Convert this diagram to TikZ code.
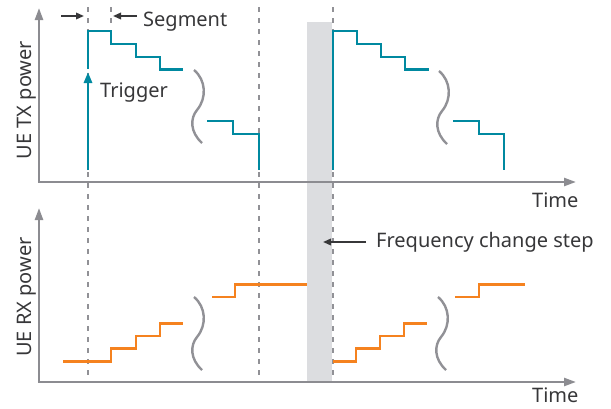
\documentclass[tikz,border=0pt]{standalone}
\usepackage{fontspec}
\setmainfont{Noto Sans}
\usetikzlibrary{arrows.meta}
\definecolor{teal1}{RGB}{0,137,160}
\definecolor{orng}{RGB}{245,130,31}
\definecolor{axisgray}{RGB}{140,140,145}
\definecolor{dashgray}{RGB}{145,145,150}
\definecolor{bandgray}{RGB}{220,221,224}
\definecolor{txt}{RGB}{55,55,57}
\tikzset{
  axis/.style={draw=axisgray, line width=2.4pt, -{Triangle[length=12pt,width=8pt]}},
  guide/.style={draw=dashgray, line width=2.6pt, dash pattern=on 5.3pt off 5.7pt},
  txpow/.style={draw=teal1, line width=2.8pt},
  rxpow/.style={draw=orng, line width=2.8pt},
  brk/.style={draw=dashgray, line width=2.4pt},
  lbl/.style={text=txt, font=\fontsize{20}{24}\selectfont, inner sep=0pt},
  ptr/.style={draw=txt, line width=1.8pt, -{Triangle[length=8pt,width=6.5pt]}},
  wavebreak/.pic={\draw[brk] (0,0) .. controls (12,10) and (13,28) .. (3,40) .. controls (-4,48.4) and (-4,62) .. (8,73);}
}
\begin{document}
\begin{tikzpicture}[x=1pt,y=-1pt]
\path[use as bounding box] (0,0) rectangle (611,408);
% frequency change band
\fill[bandgray] (307,22) rectangle (332,382);
% guides
\draw[guide] (88,7) -- (88,382);
\draw[guide] (111,7) -- (111,27);
\draw[guide] (259,7) -- (259,382);
\draw[guide] (333,7) -- (333,382);
% axes
\coordinate (o1) at (39,182);
\coordinate (yt1) at (39,8);
\coordinate (xt1) at (576,182);
\coordinate (o2) at (39,382);
\coordinate (yt2) at (39,208);
\coordinate (xt2) at (576,382);
\draw[axis] ([yshift=1.2pt]o1) -- (yt1);
\draw[axis] ([xshift=-1.2pt]o1) -- (xt1);
\draw[axis] ([yshift=1.2pt]o2) -- (yt2);
\draw[axis] ([xshift=-1.2pt]o2) -- (xt2);
% TX power
\coordinate (trigS) at (88,170);
\coordinate (trigE) at (88,72);
\draw[txpow, -{Triangle[length=11pt,width=8pt]}] (trigS) -- (trigE);
\draw[txpow] (88,68.5) |- (111,31) |- (136,44) |- (160,57) |- (183,69.5);
\draw[txpow] (207,121) -| (233,134) -| (259,170);
\draw[txpow] (333,170) |- (357,31) |- (381,44) |- (405,57) |- (429,69.5);
\draw[txpow] (453,121) -| (479,134) -| (504,170);
% RX power
\draw[rxpow] (63,361.5) -| (111,348.5) -| (136,336) -| (160,323.3) -- (183,323.3);
\draw[rxpow] (212,297) -| (235,284.5) -- (307,284.5);
\draw[rxpow] (333,361.5) -| (356,348.5) -| (380,336) -| (404,323.3) -- (427,323.3);
\draw[rxpow] (455,297) -| (479,284.5) -- (525,284.5);
% breaks
\pic at (194,70) {wavebreak};
\pic at (439,71) {wavebreak};
\pic at (194,297) {wavebreak};
\pic at (438,297) {wavebreak};
% labels
\node[lbl, anchor=base west] (seg) at (143,26) {Segment};
\node[lbl, anchor=base west] (trig) at (100,97) {Trigger};
\node[lbl, anchor=base west] (time1) at (532,207) {Time};
\node[lbl, anchor=base west] (time2) at (532,402.5) {Time};
\node[lbl, anchor=base west] (freq) at (376,247) {Frequency change step};
\node[lbl, anchor=base, rotate=90] (txl) at (31,100) {UE TX power};
\node[lbl, anchor=base, rotate=90] (rxl) at (31,297) {UE RX power};
% pointers
\coordinate (sa1) at (61,16);
\coordinate (sb1) at (84,16);
\coordinate (sa2) at (137,16);
\coordinate (sb2) at (113,16);
\coordinate (fa) at (366,242);
\coordinate (fb) at (323,242);
\draw[ptr] (sa1) -- (sb1);
\draw[ptr] (sa2) -- (sb2);
\draw[ptr] (fa) -- (fb);
\end{tikzpicture}
\end{document}
